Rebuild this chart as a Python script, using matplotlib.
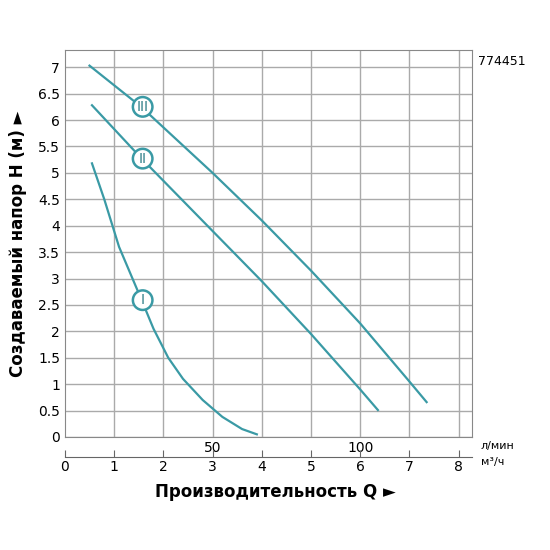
import matplotlib
matplotlib.use("Agg")
import matplotlib.pyplot as plt
import numpy as np

q3 = [0.5, 1.55, 3.0, 4.0, 5.0, 6.0, 7.0, 7.35]
h3 = [7.03, 6.25, 5.0, 4.1, 3.15, 2.15, 1.05, 0.66]
q2 = [0.55, 1.56, 3.0, 4.0, 5.0, 6.0, 6.36]
h2 = [6.28, 5.27, 3.9, 2.95, 1.95, 0.9, 0.51]
q1 = [0.55, 0.8, 1.1, 1.56, 1.8, 2.1, 2.4, 2.8, 3.2, 3.6, 3.9]
h1 = [5.18, 4.5, 3.6, 2.59, 2.05, 1.5, 1.1, 0.7, 0.38, 0.15, 0.05]
labels = [("III", 1.58, 6.25), ("II", 1.58, 5.27), ("I", 1.58, 2.59)]
lmin_ticks = [3, 6]
lmin_labels = ["50", "100"]

c = "#3a9aa5"
fig = plt.figure(figsize=(5.5, 5.5), dpi=100)
ax = fig.add_axes([0.118, 0.2055, 0.74, 0.703])
ax.set_xlim(0, 8.27)
ax.set_ylim(0, 7.32)
ax.set_yticks(np.arange(0, 7.01, 0.5))
ax.set_yticklabels(["0", "0.5", "1", "1.5", "2", "2.5", "3", "3.5", "4", "4.5", "5", "5.5", "6", "6.5", "7"])
ax.set_xticks(np.arange(1, 8.01, 1))
ax.xaxis.set_major_formatter(plt.NullFormatter())
ax.grid(True, color="#aaaaaa", lw=1)
ax.tick_params(length=0, labelsize=10)
for s in ax.spines.values():
    s.set_color("#888888")
for q, h in [(q3, h3), (q2, h2), (q1, h1)]:
    ax.plot(q, h, color=c, lw=1.6, solid_joinstyle="round")
for t, x, y in labels:
    ax.text(x, y, t, color="#2f7f88", ha="center", va="center", fontsize=10, zorder=5,
            bbox=dict(boxstyle="circle,pad=0.2", fc="white", ec=c, lw=1.8))
for x, t in zip(lmin_ticks, lmin_labels):
    ax.text(x, -0.08, t, ha="center", va="top", fontsize=10, transform=ax.transData)
ax.text(8.45, -0.08, "л/мин", ha="left", va="top", fontsize=8, clip_on=False)
ax.text(1.015, 0.97, "774451", transform=ax.transAxes, fontsize=9, va="center")

ax2 = fig.add_axes([0.118, 0.169, 0.74, 0.0001])
ax2.set_xlim(0, 8.27)
ax2.set_yticks([])
for s in ["top", "left", "right"]:
    ax2.spines[s].set_visible(False)
ax2.spines["bottom"].set_color("#666666")
ax2.set_xticks(range(0, 9))
ax2.tick_params(axis="x", direction="in", length=5, color="#666666", labelsize=10, pad=2)
ax2.text(8.45, 0, "м³/ч", ha="left", va="top", fontsize=8)

ax.set_ylabel("Создаваемый напор H (м) ►", fontsize=12, fontweight="bold", labelpad=8)
fig.text(0.5, 0.105, "Производительность Q ►", ha="center", va="center", fontsize=12, fontweight="bold")
fig.savefig("out.png", dpi=100)
